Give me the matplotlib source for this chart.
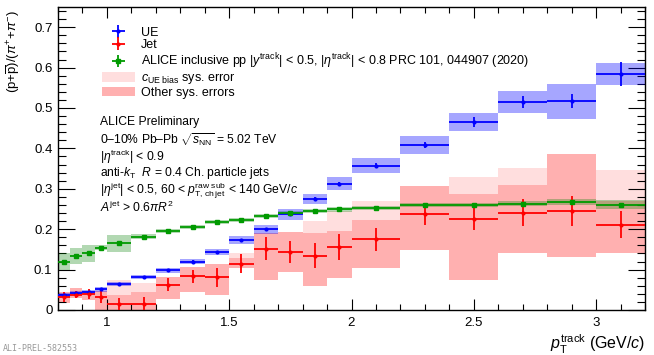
import matplotlib
matplotlib.use('Agg')
import matplotlib.pyplot as plt
from matplotlib.patches import Patch
from matplotlib.ticker import MultipleLocator
import numpy as np

plt.rcParams['font.family'] = ['Liberation Sans', 'DejaVu Sans']
plt.rcParams['mathtext.fontset'] = 'custom'
plt.rcParams['mathtext.rm'] = 'Liberation Sans'
plt.rcParams['mathtext.it'] = 'Liberation Sans:italic'
plt.rcParams['mathtext.bf'] = 'Liberation Sans:bold'

# pT bins (GeV/c)
bin_lo = [0.8, 0.85, 0.9, 0.95, 1.0, 1.1, 1.2, 1.3, 1.4, 1.5, 1.6, 1.7, 1.8, 1.9, 2.0, 2.2, 2.4, 2.6, 2.8, 3.0]
bin_hi = [0.85, 0.9, 0.95, 1.0, 1.1, 1.2, 1.3, 1.4, 1.5, 1.6, 1.7, 1.8, 1.9, 2.0, 2.2, 2.4, 2.6, 2.8, 3.0, 3.2]

# UE (p+pbar)/(pi+ + pi-)
ue_val = [0.037, 0.041, 0.044, 0.051, 0.064, 0.081, 0.098, 0.120, 0.144, 0.173,
          0.200, 0.237, 0.275, 0.312, 0.357, 0.408, 0.465, 0.514, 0.517, 0.584]
ue_stat = [0.002, 0.002, 0.002, 0.002, 0.002, 0.002, 0.002, 0.003, 0.003, 0.003,
           0.004, 0.004, 0.005, 0.006, 0.006, 0.008, 0.012, 0.015, 0.018, 0.030]
ue_sys = [0.005, 0.005, 0.005, 0.006, 0.005, 0.005, 0.006, 0.007, 0.008, 0.009,
          0.011, 0.014, 0.013, 0.016, 0.019, 0.023, 0.023, 0.027, 0.043, 0.028]

# Jet
jet_val = [0.033, 0.038, 0.039, 0.033, 0.014, 0.016, 0.062, 0.084, 0.081, 0.115,
           0.152, 0.143, 0.134, 0.156, 0.175, 0.237, 0.226, 0.241, 0.245, 0.211]
jet_stat = [0.012, 0.009, 0.012, 0.016, 0.015, 0.016, 0.016, 0.016, 0.023, 0.023,
            0.029, 0.027, 0.031, 0.033, 0.028, 0.027, 0.029, 0.033, 0.036, 0.034]
jet_other_lo = [0.015, 0.009, 0.014, 0.045, 0.030, 0.030, 0.034, 0.039, 0.043, 0.012,
                0.078, 0.048, 0.075, 0.078, 0.072, 0.089, 0.152, 0.101, 0.113, 0.071]
jet_other_hi = [0.012, 0.016, 0.008, 0.014, 0.023, 0.029, 0.019, 0.022, 0.033, 0.014,
                0.038, 0.049, 0.057, 0.039, 0.047, 0.071, 0.060, 0.068, 0.140, 0.059]
jet_cue_hi = [0.004, 0.005, 0.005, 0.008, 0.060, 0.050, 0.015, 0.015, 0.020, 0.026,
              0.030, 0.045, 0.086, 0.089, 0.094, 0.060, 0.102, 0.110, 0.100, 0.136]

# ALICE inclusive pp
pp_val = [0.119, 0.133, 0.140, 0.154, 0.165, 0.181, 0.195, 0.206, 0.217, 0.222,
          0.233, 0.240, 0.246, 0.249, 0.252, 0.260, 0.260, 0.263, 0.267, 0.261]
pp_stat = [0.002, 0.002, 0.002, 0.002, 0.002, 0.002, 0.002, 0.002, 0.002, 0.002,
           0.002, 0.002, 0.002, 0.002, 0.002, 0.002, 0.002, 0.002, 0.002, 0.002]
pp_sys = [0.021, 0.020, 0.021, 0.006, 0.021, 0.006, 0.005, 0.005, 0.005, 0.005,
          0.005, 0.005, 0.005, 0.006, 0.005, 0.006, 0.006, 0.006, 0.007, 0.011]

lo = np.array(bin_lo)
hi = np.array(bin_hi)
x = 0.5 * (lo + hi)
xerr = 0.5 * (hi - lo)
w = hi - lo

ue = np.array(ue_val)
jet = np.array(jet_val)
pp = np.array(pp_val)

fig = plt.figure(figsize=(6.54, 3.55), dpi=100)
ax = fig.add_axes([58 / 654, 1 - 310 / 355, 587 / 654, 303 / 355])

# systematic boxes
ax.bar(lo, np.array(jet_cue_hi), width=w, bottom=jet, align='edge',
       color='#ffdede', lw=0, zorder=1)
ax.bar(lo, np.array(jet_other_lo) + np.array(jet_other_hi), width=w,
       bottom=jet - np.array(jet_other_lo), align='edge',
       color='#ffb0b0', lw=0, zorder=1.5)
ax.bar(lo, 2 * np.array(pp_sys), width=w, bottom=pp - np.array(pp_sys), align='edge',
       color='green', alpha=0.3, lw=0, zorder=2)
ax.bar(lo, 2 * np.array(ue_sys), width=w, bottom=ue - np.array(ue_sys), align='edge',
       color='blue', alpha=0.35, lw=0, zorder=2)

# points with stat errors
h_ue = ax.errorbar(x, ue, xerr=xerr, yerr=ue_stat, fmt='o', ms=2, color='blue',
                   lw=1.3, capsize=0, zorder=4)
h_jet = ax.errorbar(x, jet, xerr=xerr, yerr=jet_stat, fmt='o', ms=2, color='red',
                    lw=1.3, capsize=0, zorder=4)
h_pp = ax.errorbar(x, pp, xerr=xerr, yerr=pp_stat, fmt='s', ms=3.5, color='#009a00',
                   lw=1.3, capsize=0, zorder=5)

p_cue = Patch(facecolor='#ffdede', edgecolor='none')
p_oth = Patch(facecolor='#ffb0b0', edgecolor='none')

leg = ax.legend([h_ue, h_jet, h_pp, p_cue, p_oth],
                ['UE', 'Jet',
                 r'ALICE inclusive pp |$y^{\mathrm{track}}$| < 0.5, |$\eta^{\mathrm{track}}$| < 0.8 PRC 101, 044907 (2020)',
                 r'$c_{\mathrm{UE\ bias}}$ sys. error', 'Other sys. errors'],
                loc='upper left', bbox_to_anchor=(0.075, 0.935), borderaxespad=0,
                borderpad=0, frameon=False, fontsize=9, handlelength=2.6,
                handletextpad=0.5, labelspacing=0.02, handleheight=0.8)

txt = [
    ('ALICE Preliminary', 0.620),
    (r'0–10% Pb–Pb $\sqrt{s_{\mathrm{NN}}}$ = 5.02 TeV', 0.563),
    (r'|$\eta^{\mathrm{track}}$| < 0.9', 0.506),
    (r'anti-$k_{\mathrm{T}}$  $R$ = 0.4 Ch. particle jets', 0.452),
    (r'|$\eta^{\mathrm{jet}}$| < 0.5, 60 < $p_{\mathrm{T,\,ch\,jet}}^{\mathrm{raw\ sub}}$ < 140 GeV/$c$', 0.394),
    (r'$A^{\mathrm{jet}}$ > 0.6$\pi R^{2}$', 0.338),
]
for s, yy in txt:
    ax.text(0.0716, yy, s, transform=ax.transAxes, fontsize=8.7, va='center', ha='left')

ax.set_xlim(0.8, 3.2)
ax.set_ylim(0, 0.75)
ax.xaxis.set_major_locator(MultipleLocator(0.5))
ax.xaxis.set_minor_locator(MultipleLocator(0.1))
ax.yaxis.set_major_locator(MultipleLocator(0.1))
ax.yaxis.set_minor_locator(MultipleLocator(0.02))
ax.set_xticks([1, 1.5, 2, 2.5, 3])
ax.set_xticklabels(['1', '1.5', '2', '2.5', '3'])
ax.set_yticks([0, 0.1, 0.2, 0.3, 0.4, 0.5, 0.6, 0.7])
ax.set_yticklabels(['0', '0.1', '0.2', '0.3', '0.4', '0.5', '0.6', '0.7'])
ax.tick_params(axis='both', which='both', direction='in', top=True, right=True,
               labelsize=9.5, width=0.8)
ax.tick_params(axis='x', which='major', length=8, pad=5)
ax.tick_params(axis='x', which='minor', length=4)
ax.tick_params(axis='y', which='major', length=12, pad=4)
ax.tick_params(axis='y', which='minor', length=6)
for sp in ax.spines.values():
    sp.set_linewidth(1.0)

ax.set_xlabel(r'$p_{\mathrm{T}}^{\mathrm{track}}$ (GeV/$c$)', fontsize=11.5, loc='right')
ax.xaxis.set_label_coords(1.0, -0.075)
ax.set_ylabel(r'(p+$\overline{\mathrm{p}}$)/($\pi^{+}$+$\pi^{-}$)', fontsize=9.5, loc='top')
ax.yaxis.set_label_coords(-0.062, 0.99)

fig.text(0.004, 0.012, 'ALI-PREL-582553', fontsize=6, color='#999999',
         family='DejaVu Sans Mono')

fig.savefig('out.png', dpi=100)
plt.close(fig)
